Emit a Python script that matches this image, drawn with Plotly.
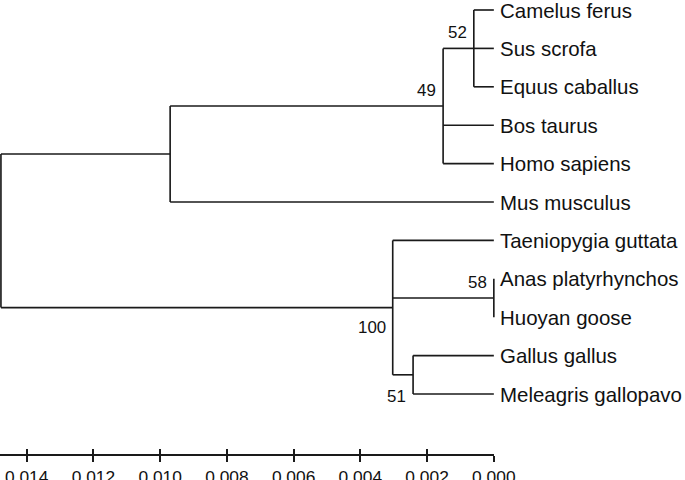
import plotly.graph_objects as go

# ---- data ----
leaf_names = ["Camelus ferus", "Sus scrofa", "Equus caballus", "Bos taurus", "Homo sapiens",
              "Mus musculus", "Taeniopygia guttata", "Anas platyrhynchos", "Huoyan goose",
              "Gallus gallus", "Meleagris gallopavo"]
leaf_heights = [0.0] * len(leaf_names)

node_names = ["root", "mammals", "n49", "n52", "birds", "n58", "n51"]
node_heights = [0.01477, 0.0097, 0.00152, 0.0006, 0.00303, 0.0, 0.00242]
node_children = [
    ["mammals", "birds"],
    ["n49", "Mus musculus"],
    ["n52", "Bos taurus", "Homo sapiens"],
    ["Camelus ferus", "Sus scrofa", "Equus caballus"],
    ["Taeniopygia guttata", "n58", "n51"],
    ["Anas platyrhynchos", "Huoyan goose"],
    ["Gallus gallus", "Meleagris gallopavo"],
]
bootstrap = [None, None, 49, 52, 100, 58, 51]

scale_ticks = [0.014, 0.012, 0.010, 0.008, 0.006, 0.004, 0.002, 0.000]

# ---- styles / geometry ----
boot_side = [None, None, "above", "above", "below", "above", "below"]
boot_dy = [0, 0, 4, 4, -8, 4, -10]
REF_W, REF_H = 685, 480
W = 701
S = W / REF_W
H = round(REF_H * S)
PX_ZERO = 498.2          # pixel of 0.000 (render-corrected)
PX_PER_UNIT = 33666.0    # pixels per distance unit (render-corrected)
Y0, DY = 10.0, 38.4      # leaf row pixel positions (figure px)
X_LEFT = PX_ZERO / PX_PER_UNIT
X_RIGHT = (PX_ZERO - REF_W) / PX_PER_UNIT
Y_TOP = -Y0 / DY
Y_BOT = (H - Y0) / DY
AXIS_PX = 455

# ---- compute node positions ----
xpos, ypos = {}, {}
for i, n in enumerate(leaf_names):
    xpos[n] = leaf_heights[i]
    ypos[n] = i
for n, h in zip(node_names, node_heights):
    xpos[n] = h

def get_y(n):
    if n in ypos:
        return ypos[n]
    ch = node_children[node_names.index(n)]
    ys = [get_y(c) for c in ch]
    ypos[n] = (ys[0] + ys[-1]) / 2
    return ypos[n]

for n in node_names:
    get_y(n)

lx, ly = [], []
for n, ch in zip(node_names, node_children):
    ys = [ypos[c] for c in ch]
    lx += [xpos[n], xpos[n], None]
    ly += [ys[0], ys[-1], None]
    for c in ch:
        lx += [xpos[n], xpos[c], None]
        ly += [ypos[c], ypos[c], None]

LINE = "#1a1a1a"
FONT = "Arial, Liberation Sans, sans-serif"

fig = go.Figure()

# invisible traces to activate scale axes
fig.add_trace(go.Scatter(x=[scale_ticks[0]], y=[0], xaxis="x2", yaxis="y",
                         mode="markers", marker=dict(opacity=0), hoverinfo="skip",
                         showlegend=False))
fig.add_trace(go.Scatter(x=[scale_ticks[0]], y=[0], xaxis="x3", yaxis="y",
                         mode="markers", marker=dict(opacity=0), hoverinfo="skip",
                         showlegend=False))

fig.add_trace(go.Scatter(x=lx, y=ly, mode="lines",
                         line=dict(color=LINE, width=1.6 * S), hoverinfo="skip",
                         showlegend=False))

annotations = []
for n in leaf_names:
    annotations.append(dict(x=xpos[n], y=ypos[n], xref="x", yref="y", text=n,
                            showarrow=False, xanchor="left", yanchor="middle",
                            xshift=4 * S, font=dict(family=FONT, size=20 * S, color="#111")))
for n, b, side, dy in zip(node_names, bootstrap, boot_side, boot_dy):
    if b is None:
        continue
    annotations.append(dict(x=xpos[n], y=ypos[n], xref="x", yref="y", text=str(b),
                            showarrow=False, xanchor="right",
                            yanchor="bottom" if side == "above" else "top",
                            xshift=-5 * S, yshift=dy,
                            font=dict(family=FONT, size=16.5 * S, color="#111")))

dom_end = PX_ZERO / REF_W
pos = 1 - AXIS_PX / H
common = dict(range=[X_LEFT, 0.0], anchor="free", position=pos,
              showgrid=False, zeroline=False, tickvals=scale_ticks, tickformat=".3f",
              tickcolor=LINE, tickwidth=1.5 * S)
fig.update_layout(
    width=W, height=H, autosize=False,
    margin=dict(l=0, r=0, t=0, b=0),
    paper_bgcolor="white", plot_bgcolor="rgba(0,0,0,0)",
    xaxis=dict(range=[X_LEFT, X_RIGHT], visible=False, domain=[0, 1]),
    yaxis=dict(range=[Y_BOT, Y_TOP], visible=False, domain=[0, 1]),
    xaxis2=dict(domain=[0, dom_end], showline=True, linecolor=LINE, linewidth=1.6 * S,
                ticks="outside", ticklen=6,
                tickfont=dict(family=FONT, size=17 * S, color="#111"), **common),
    xaxis3=dict(overlaying="x2", showline=False, ticks="inside", ticklen=6,
                showticklabels=False, **common),
    annotations=annotations,
)

fig.write_html("out.html",
               config=dict(responsive=False, displayModeBar=False),
               post_script="document.body.style.margin='0';")
